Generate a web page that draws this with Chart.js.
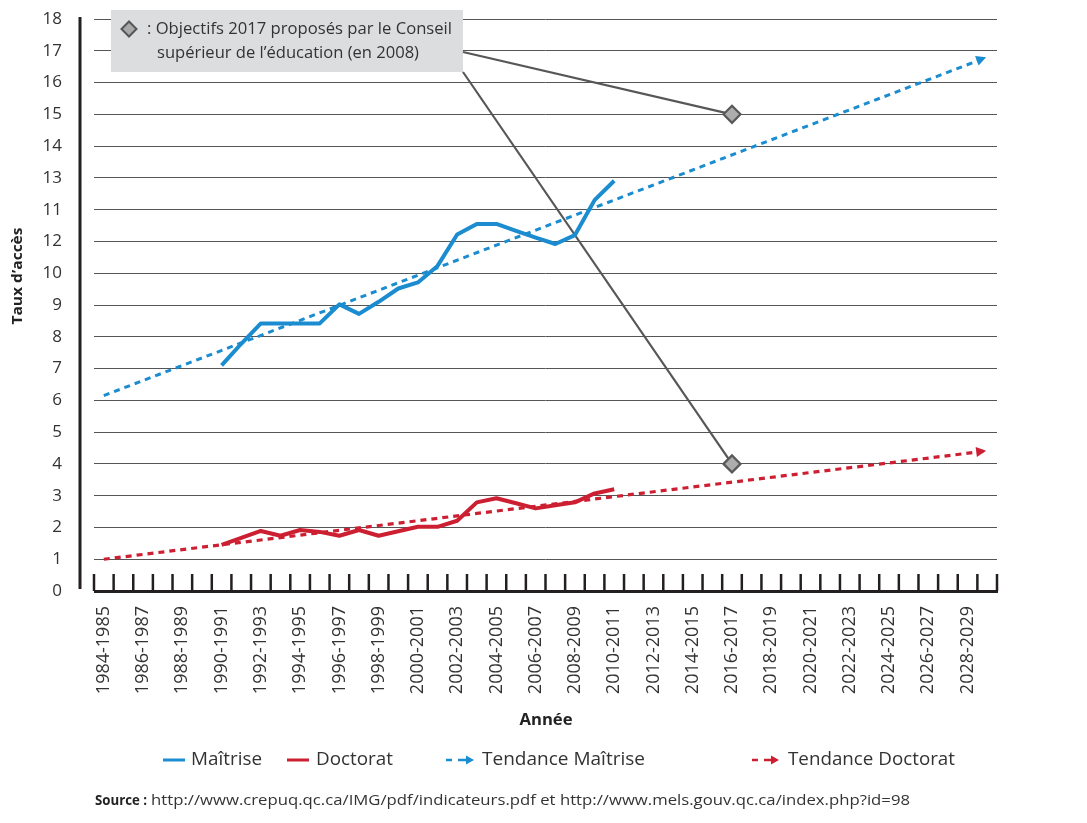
<!DOCTYPE html>
<html><head><meta charset="utf-8">
<script src="https://cdn.jsdelivr.net/npm/chart.js@4/dist/chart.umd.min.js"></script>
<style>html,body{margin:0;padding:0;background:#fff;} canvas{display:block;}</style>
</head><body>
<canvas id="c" width="1087" height="823"></canvas>
<script>
const categories = ['1984-1985','1985-1986','1986-1987','1987-1988','1988-1989','1989-1990','1990-1991','1991-1992','1992-1993','1993-1994','1994-1995','1995-1996','1996-1997','1997-1998','1998-1999','1999-2000','2000-2001','2001-2002','2002-2003','2003-2004','2004-2005','2005-2006','2006-2007','2007-2008','2008-2009','2009-2010','2010-2011','2011-2012','2012-2013','2013-2014','2014-2015','2015-2016','2016-2017','2017-2018','2018-2019','2019-2020','2020-2021','2021-2022','2022-2023','2023-2024','2024-2025','2025-2026','2026-2027','2027-2028','2028-2029','2029-2030'];
const yTickLabels = ['0','1','2','3','4','5','6','7','8','9','10','12','11','13','14','15','16','17','18'];
const obsYears = ['1990-1991','1991-1992','1992-1993','1993-1994','1994-1995','1995-1996','1996-1997','1997-1998','1998-1999','1999-2000','2000-2001','2001-2002','2002-2003','2003-2004','2004-2005','2005-2006','2006-2007','2007-2008','2008-2009','2009-2010','2010-2011'];
const maitrise = [7.1, 7.78, 8.42, 8.42, 8.42, 8.42, 9.02, 8.72, 9.1, 9.52, 9.71, 10.23, 11.22, 11.55, 11.55, 11.33, 11.12, 10.92, 11.2, 12.3, 12.91];
const doctorat = [1.45, 1.67, 1.89, 1.74, 1.92, 1.86, 1.74, 1.92, 1.74, 1.88, 2.02, 2.02, 2.21, 2.79, 2.92, 2.76, 2.6, 2.7, 2.79, 3.07, 3.2];
const trendYears = ['1984-1985', '2029-2030'];
const trendMaitrise = [6.15, 16.8];
const trendDoctorat = [1.0, 4.41];
const objectifYears = ['2016-2017', '2016-2017'];
const objectifs = [15, 4];

const BLUE = '#1a8ccf', RED = '#cd1f32', DARK = '#231f20', TXT = '#333333';
const FONT = "'Open Sans', 'Noto Sans', sans-serif";

function pts(xs, ys) { return xs.map((x, i) => ({x: x, y: ys[i]})); }

function fitText(ctx, text, x, y, w, font, color, align) {
  ctx.save();
  ctx.font = font;
  ctx.fillStyle = color;
  ctx.textBaseline = 'middle';
  ctx.textAlign = 'left';
  const m = ctx.measureText(text).width;
  const s = w / m;
  let x0 = x;
  if (align === 'center') x0 = x - w / 2;
  ctx.translate(x0, y);
  ctx.scale(s, 1);
  ctx.fillText(text, 0, 0);
  ctx.restore();
}
function diamond(ctx, x, y, r, fill, stroke) {
  ctx.save();
  ctx.beginPath();
  ctx.moveTo(x, y - r); ctx.lineTo(x + r, y); ctx.lineTo(x, y + r); ctx.lineTo(x - r, y); ctx.closePath();
  ctx.fillStyle = fill; ctx.fill();
  ctx.lineWidth = 2; ctx.strokeStyle = stroke; ctx.stroke();
  ctx.restore();
}
function arrowHead(ctx, tipX, tipY, ang, len, hw, color) {
  ctx.save();
  ctx.translate(tipX, tipY);
  ctx.rotate(ang);
  ctx.beginPath();
  ctx.moveTo(0, 0); ctx.lineTo(-len, -hw); ctx.lineTo(-len, hw); ctx.closePath();
  ctx.fillStyle = color; ctx.fill();
  ctx.restore();
}

const decor = {
  id: 'decor',
  beforeDatasetsDraw(chart) {
    const ctx = chart.ctx, ca = chart.chartArea;
    const xs = chart.scales.x, ys = chart.scales.y;
    // annotation box
    ctx.save();
    ctx.fillStyle = '#dcdddf';
    ctx.fillRect(111, 10, 352, 62);
    ctx.restore();
    diamond(ctx, 129, 29, 7.5, '#a8a8a8', '#555555');
    fitText(ctx, ': Objectifs 2017 proposés par le Conseil', 147, 29, 305, '16px ' + FONT, TXT);
    fitText(ctx, 'supérieur de l\u2019éducation (en 2008)', 157, 53, 262, '16px ' + FONT, TXT);
    // connectors to objective diamonds
    const meta = chart.getDatasetMeta(0);
    const starts = [[463, 52], [463, 72]];
    ctx.save();
    ctx.strokeStyle = '#575757';
    ctx.lineWidth = 2.2;
    meta.data.forEach((p, i) => {
      ctx.beginPath();
      ctx.moveTo(starts[i][0], starts[i][1]);
      ctx.lineTo(p.x, p.y);
      ctx.stroke();
    });
    ctx.restore();
    // axes
    const y0 = ys.getPixelForValue(0);
    const yTop = ys.getPixelForValue(18);
    ctx.save();
    ctx.strokeStyle = DARK;
    ctx.lineWidth = 3;
    ctx.beginPath();
    ctx.moveTo(80, yTop - 2); ctx.lineTo(80, y0 - 2);
    ctx.stroke();
    ctx.beginPath();
    ctx.moveTo(ca.left, y0 + 0.5); ctx.lineTo(ca.right + 1, y0 + 0.5);
    ctx.stroke();
    ctx.lineWidth = 2.5;
    const half = (xs.getPixelForValue(1) - xs.getPixelForValue(0)) / 2;
    for (let i = 0; i <= categories.length; i++) {
      const bx = i < categories.length ? xs.getPixelForValue(i) - half : xs.getPixelForValue(categories.length - 1) + half;
      ctx.beginPath();
      ctx.moveTo(bx, y0 - 17); ctx.lineTo(bx, y0);
      ctx.stroke();
    }
    ctx.restore();
  },
  afterDatasetsDraw(chart) {
    const ctx = chart.ctx;
    [[3, BLUE], [4, RED]].forEach(([di, col]) => {
      const d = chart.getDatasetMeta(di).data;
      const a = d[d.length - 2], b = d[d.length - 1];
      const ang = Math.atan2(b.y - a.y, b.x - a.x);
      arrowHead(ctx, b.x - 1, b.y, ang, 10, 5, col);
    });
  },
  afterDraw(chart) {
    const ctx = chart.ctx;
    // y title
    ctx.save();
    ctx.translate(18, 276);
    ctx.rotate(-Math.PI / 2);
    fitText(ctx, 'Taux d\u2019accès', 0, 0, 97, 'bold 14px ' + FONT, '#222', 'center');
    ctx.restore();
    // x title
    fitText(ctx, 'Année', 546, 720, 53, 'bold 16px ' + FONT, '#222', 'center');
    // legend
    const ly = 760;
    ctx.save();
    ctx.lineWidth = 3;
    ctx.strokeStyle = BLUE;
    ctx.beginPath(); ctx.moveTo(163, ly); ctx.lineTo(185, ly); ctx.stroke();
    ctx.strokeStyle = RED;
    ctx.beginPath(); ctx.moveTo(287, ly); ctx.lineTo(309, ly); ctx.stroke();
    ctx.lineWidth = 2.5;
    ctx.strokeStyle = BLUE;
    ctx.beginPath(); ctx.moveTo(446, ly); ctx.lineTo(452, ly); ctx.moveTo(458, ly); ctx.lineTo(466, ly); ctx.stroke();
    ctx.strokeStyle = RED;
    ctx.beginPath(); ctx.moveTo(752, ly); ctx.lineTo(758, ly); ctx.moveTo(764, ly); ctx.lineTo(772, ly); ctx.stroke();
    ctx.restore();
    arrowHead(ctx, 474, ly, 0, 8, 4.5, BLUE);
    arrowHead(ctx, 779, ly, 0, 8, 4.5, RED);
    fitText(ctx, 'Maîtrise', 191, ly, 71, '18px ' + FONT, TXT);
    fitText(ctx, 'Doctorat', 316, ly, 77, '18px ' + FONT, TXT);
    fitText(ctx, 'Tendance Maîtrise', 482, ly, 163, '18px ' + FONT, TXT);
    fitText(ctx, 'Tendance Doctorat', 788, ly, 167, '18px ' + FONT, TXT);
    // source
    fitText(ctx, 'Source :', 95, 801, 52, 'bold 15px ' + FONT, '#222');
    fitText(ctx, 'http://www.crepuq.qc.ca/IMG/pdf/indicateurs.pdf et http://www.mels.gouv.qc.ca/index.php?id=98', 151, 801, 759, '15px ' + FONT, TXT);
  }
};

new Chart(document.getElementById('c'), {
  type: 'line',
  data: {
    labels: categories,
    datasets: [
      { label: 'Objectifs 2017', data: pts(objectifYears, objectifs), showLine: false,
        pointStyle: 'rectRot', pointRadius: 8.5, pointBackgroundColor: '#adadad',
        pointBorderColor: '#595959', pointBorderWidth: 2.2 },
      { label: 'Maîtrise', data: pts(obsYears, maitrise), borderColor: BLUE, borderWidth: 4,
        pointRadius: 0, tension: 0, borderJoinStyle: 'round', borderCapStyle: 'butt' },
      { label: 'Doctorat', data: pts(obsYears, doctorat), borderColor: RED, borderWidth: 4,
        pointRadius: 0, tension: 0, borderJoinStyle: 'round' },
      { label: 'Tendance Maîtrise', data: pts(trendYears, trendMaitrise), borderColor: BLUE, borderWidth: 3,
        borderDash: [6, 5], pointRadius: 0 },
      { label: 'Tendance Doctorat', data: pts(trendYears, trendDoctorat), borderColor: RED, borderWidth: 3.2,
        borderDash: [6, 5], pointRadius: 0 }
    ]
  },
  options: {
    responsive: false,
    animation: false,
    layout: { padding: { left: 0, right: 90, top: 19, bottom: 102 } },
    plugins: { legend: { display: false }, tooltip: { enabled: false } },
    scales: {
      x: {
        type: 'category',
        offset: true,
        grid: { display: false, drawTicks: false },
        border: { display: false },
        ticks: {
          autoSkip: false, minRotation: 90, maxRotation: 90, padding: 15,
          color: TXT, font: { family: FONT, size: 18 },
          callback: (v, i) => (i % 2 === 0 ? categories[i] : '')
        },
        afterFit: s => { s.height = 130; s.paddingLeft = 0; s.paddingRight = 0; }
      },
      y: {
        min: 0, max: 18,
        grid: { color: '#555555', lineWidth: 1, drawTicks: false },
        border: { display: false },
        ticks: {
          stepSize: 1, padding: 32, color: TXT, font: { family: FONT, size: 17 },
          callback: v => yTickLabels[v]
        },
        afterFit: s => { s.width = 94; s.paddingTop = 0; s.paddingBottom = 0; }
      }
    }
  },
  plugins: [decor]
});
</script>
</body></html>
